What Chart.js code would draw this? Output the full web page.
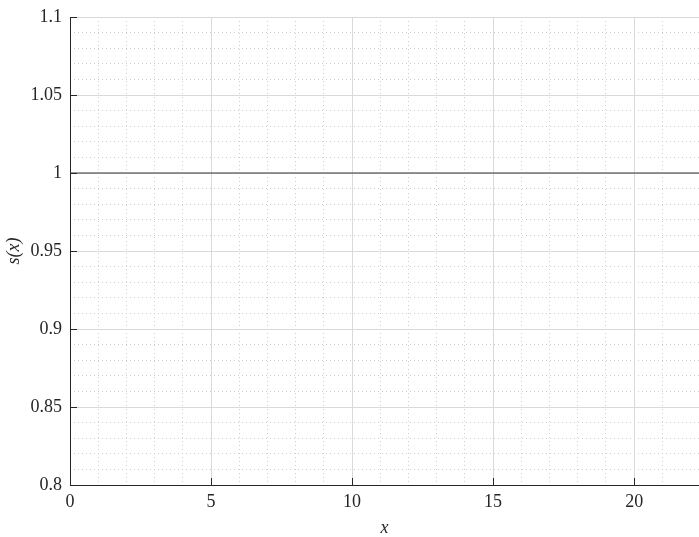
<!DOCTYPE html>
<html>
<head>
<meta charset="utf-8">
<script src="https://cdn.jsdelivr.net/npm/chart.js@4/dist/chart.umd.min.js"></script>
<style>
  html, body { margin: 0; padding: 0; background: #fff; }
  canvas { display: block; }
</style>
</head>
<body>
<canvas id="sChart" width="699" height="537"></canvas>
<script>
// data
const xValues = [0, 5, 10, 15, 20, 22.3];
const sValues = [1, 1, 1, 1, 1, 1];
const xTicks = [0, 5, 10, 15, 20];
const yTicks = [0.8, 0.85, 0.9, 0.95, 1, 1.05, 1.1];

const FONT = '"Liberation Serif", "Times New Roman", serif';
const TEXT = '#262626';

const isMajor = (v, step) => Math.abs(v / step - Math.round(v / step)) < 1e-6;

// short inward ticks on left and bottom axes
const inwardTicks = {
    id: 'inwardTicks',
    afterDraw(chart) {
        const ctx = chart.ctx;
        const { x, y } = chart.scales;
        const area = chart.chartArea;
        ctx.save();
        ctx.strokeStyle = TEXT;
        ctx.lineWidth = 1;
        ctx.beginPath();
        xTicks.forEach(v => {
            const px = Math.round(x.getPixelForValue(v)) + 0.5;
            ctx.moveTo(px, area.bottom);
            ctx.lineTo(px, area.bottom - 7);
        });
        yTicks.forEach(v => {
            const py = Math.round(y.getPixelForValue(v)) + 0.5;
            ctx.moveTo(area.left, py);
            ctx.lineTo(area.left + 7, py);
        });
        ctx.stroke();
        ctx.restore();
    }
};

new Chart(document.getElementById('sChart'), {
    type: 'line',
    data: {
        datasets: [{
            data: xValues.map((v, i) => ({ x: v, y: sValues[i] })),
            borderColor: '#333333',
            borderWidth: 1,
            pointRadius: 0,
            tension: 0,
            xAxisID: 'x',
            yAxisID: 'y'
        }]
    },
    options: {
        responsive: false,
        animation: false,
        layout: { padding: { top: 16, right: 0, left: 3, bottom: 0 } },
        plugins: { legend: { display: false }, tooltip: { enabled: false } },
        scales: {
            xMinor: {
                type: 'linear', position: 'bottom', min: 0, max: 22.3,
                ticks: { display: false, stepSize: 1 },
                grid: {
                    drawTicks: false,
                    color: c => isMajor(c.tick.value, 5) ? 'rgba(0,0,0,0)' : '#cfcfcf',
                    lineWidth: 1
                },
                border: { display: false, dash: [1, 3] },
                afterFit: s => { s.height = 0; }
            },
            yMinor: {
                type: 'linear', position: 'left', min: 0.8, max: 1.1,
                ticks: { display: false, stepSize: 0.01 },
                grid: {
                    drawTicks: false,
                    color: c => isMajor(c.tick.value, 0.05) ? 'rgba(0,0,0,0)' : '#cfcfcf',
                    lineWidth: 1
                },
                border: { display: false, dash: [1, 3] },
                afterFit: s => { s.width = 0; }
            },
            x: {
                type: 'linear', position: 'bottom', min: 0, max: 22.3,
                afterBuildTicks: s => { s.ticks = xTicks.map(v => ({ value: v })); },
                ticks: {
                    color: TEXT, padding: 6,
                    font: { family: FONT, size: 18 }
                },
                grid: { color: '#d9d9d9', lineWidth: 1, drawTicks: false },
                border: { color: TEXT, width: 1 },
                title: {
                    display: true, text: 'x', color: TEXT, padding: { top: 7, bottom: 0 },
                    font: { family: FONT, size: 18, style: 'italic', lineHeight: 1 }
                },
                afterFit: s => { s.height = 52; }
            },
            y: {
                type: 'linear', position: 'left', min: 0.8, max: 1.1,
                afterBuildTicks: s => { s.ticks = yTicks.map(v => ({ value: v })); },
                ticks: {
                    color: TEXT, padding: 8,
                    font: { family: FONT, size: 18, lineHeight: 1 },
                    callback: v => String(Number(v.toFixed(2)))
                },
                grid: { color: '#d9d9d9', lineWidth: 1, drawTicks: false },
                border: { color: TEXT, width: 1 },
                title: {
                    display: true, text: 's(x)', color: TEXT, padding: { top: 0, bottom: 4 },
                    font: { family: FONT, size: 18, style: 'italic' }
                },
                afterFit: s => { s.width = 67; }
            }
        }
    },
    plugins: [inwardTicks]
});
</script>
</body>
</html>
